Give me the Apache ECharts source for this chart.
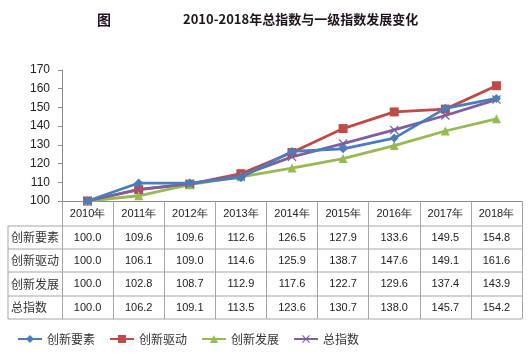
<!DOCTYPE html>
<html>
<head>
<meta charset="utf-8">
<script src="https://cdn.jsdelivr.net/npm/echarts@6/dist/echarts.min.js"></script>
<style>
  html, body { margin: 0; padding: 0; background: #fff; }
  #main { width: 532px; height: 356px; }
</style>
</head>
<body>
<div id="main"></div>
<script>
// 数据
const years = ['2010年', '2011年', '2012年', '2013年', '2014年', '2015年', '2016年', '2017年', '2018年'];
const chuangxinYaosu = [100.0, 109.6, 109.6, 112.6, 126.5, 127.9, 133.6, 149.5, 154.8];
const chuangxinQudong = [100.0, 106.1, 109.0, 114.6, 125.9, 138.7, 147.6, 149.1, 161.6];
const chuangxinFazhan = [100.0, 102.8, 108.7, 112.9, 117.6, 122.7, 129.6, 137.4, 143.9];
const zongZhishu = [100.0, 106.2, 109.1, 113.5, 123.6, 130.7, 138.0, 145.7, 154.2];
const seriesNames = ['创新要素', '创新驱动', '创新发展', '总指数'];
const yTicks = [100, 170, 10]; // min, max, interval

const colors = ['#4a7ebb', '#be4b48', '#98b954', '#7d60a0'];
const tableRows = [chuangxinYaosu, chuangxinQudong, chuangxinFazhan, zongZhishu];
const symbols = [
    'diamond',
    'rect',
    'triangle',
    'path://M0,1L1,0L5,4L9,0L10,1L6,5L10,9L9,10L5,6L1,10L0,9L4,5Z'
];
const symbolSizes = [9, 9, 9, 9];

const chart = echarts.init(document.getElementById('main'));

const gridLeft = 62, gridRight = 10, gridTop = 70, gridBottom = 155;
const tableLeft = 8;
const rowLines = [226, 249, 272, 296, 319];

chart.setOption({
    animation: false,
    color: colors,
    title: [
        {
            text: '图',
            left: 92, top: 8,
            textStyle: { fontSize: 14, fontWeight: 'bold', color: '#1f1420', fontFamily: 'Noto Sans CJK SC' }
        },
        {
            text: '2010-2018年总指数与一级指数发展变化',
            left: 178, top: 8,
            textStyle: { fontSize: 13, fontWeight: 'bold', color: '#1f1420', fontFamily: 'Noto Sans CJK SC' }
        }
    ],
    legend: {
        left: 12, top: 328,
        itemWidth: 24, itemHeight: 10, itemGap: 14,
        textStyle: { fontSize: 12, color: '#333', fontFamily: 'Noto Sans CJK SC' },
        data: seriesNames
    },
    grid: { left: gridLeft, right: gridRight, top: gridTop, bottom: gridBottom },
    xAxis: {
        type: 'category',
        data: years,
        boundaryGap: true,
        axisLine: { lineStyle: { color: '#8a8a8a', width: 1 } },
        axisTick: { show: true, length: 118, lineStyle: { color: '#a6a6a6' } },
        axisLabel: { margin: 7, fontSize: 11, color: '#222', fontFamily: 'Liberation Sans', interval: 0 }
    },
    yAxis: {
        type: 'value',
        min: yTicks[0], max: yTicks[1], interval: yTicks[2],
        axisLine: { show: true, lineStyle: { color: '#8a8a8a' } },
        axisTick: { show: true, length: 4, lineStyle: { color: '#8a8a8a' } },
        splitLine: { show: false },
        axisLabel: { margin: 12, fontSize: 12, color: '#222', fontFamily: 'Liberation Sans' }
    },
    series: tableRows.map((d, i) => ({
        name: seriesNames[i],
        type: 'line',
        data: d,
        symbol: symbols[i],
        symbolSize: symbolSizes[i],
        showAllSymbol: true,
        lineStyle: { width: 2.8, color: colors[i] },
        itemStyle: { color: colors[i] },
        z: i === 0 ? 5 : 2
    }))
});

// 数据表
const rightX = chart.getWidth() - gridRight;
const graphics = [];
rowLines.forEach(y => {
    graphics.push({
        type: 'line',
        shape: { x1: tableLeft, y1: y, x2: rightX, y2: y },
        style: { stroke: '#a6a6a6', lineWidth: 1 }
    });
});
graphics.push({
    type: 'line',
    shape: { x1: tableLeft, y1: rowLines[0], x2: tableLeft, y2: rowLines[rowLines.length - 1] },
    style: { stroke: '#a6a6a6', lineWidth: 1 }
});
tableRows.forEach((row, r) => {
    const yMid = (rowLines[r] + rowLines[r + 1]) / 2;
    graphics.push({
        type: 'text',
        x: tableLeft + 3, y: yMid,
        style: {
            text: seriesNames[r], fill: '#333', font: '12px "Noto Sans CJK SC"',
            textAlign: 'left', textVerticalAlign: 'middle'
        }
    });
    row.forEach((v, c) => {
        const x = chart.convertToPixel({ xAxisIndex: 0 }, c);
        graphics.push({
            type: 'text',
            x: x, y: yMid,
            style: {
                text: v.toFixed(1), fill: '#222', font: '11px "Liberation Sans"',
                textAlign: 'center', textVerticalAlign: 'middle'
            }
        });
    });
});
chart.setOption({ graphic: graphics });
</script>
</body>
</html>
